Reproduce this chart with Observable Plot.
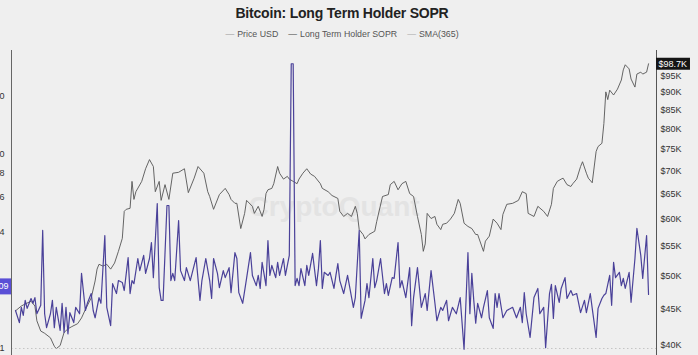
<!DOCTYPE html>
<html><head><meta charset="utf-8">
<script src="https://cdn.jsdelivr.net/npm/d3@7"></script>
<script src="https://cdn.jsdelivr.net/npm/@observablehq/plot@0.6"></script>
<style>
html,body{margin:0;padding:0;background:#efefef;width:698px;height:355px;overflow:hidden;font-family:"Liberation Sans",Arial,sans-serif;}
#title{position:absolute;left:0;top:4px;width:684px;text-align:center;font-weight:bold;font-size:14px;letter-spacing:-0.2px;line-height:18px;color:#222;}
#legend{position:absolute;left:0;top:28px;width:684px;text-align:center;font-size:8.8px;line-height:12px;color:#555;white-space:nowrap;}
#legend .item{margin:0 5px;}
#legend .dash{margin-right:3px;}
#chart{position:absolute;left:0;top:44px;width:698px;height:311px;}
#chart svg{position:absolute;left:0;top:0;overflow:visible;}
</style></head>
<body>
<div id="title">Bitcoin: Long Term Holder SOPR</div>
<div id="legend"><span class="item"><span class="dash" style="color:#999">—</span>Price USD</span><span class="item"><span class="dash" style="color:#444">—</span>Long Term Holder SOPR</span><span class="item"><span class="dash" style="color:#aaa">—</span>SMA(365)</span></div>
<div id="chart"></div>
<script>
// Days since 2024-01-01
const priceDays = [0,3,5,8,10,11,13,15,18,20,21,23,25,27,29,32,34,36,39,41,42,43,45,47,49,51,53,55,56,57,59,60,61,62,65,67,69,71,72,74,75,77,79,81,84,87,89,92,94,97,99,100,102,105,108,110,111,113,114,116,118,119,122,123,125,127,128,129,130,132,133,135,136,138,140,141,143,145,146,148,150,152,154,157,158,161,163,166,167,169,171,173,175,176,177,179,180,182,185,186,189,192,193,195,197,199,201,203,205,207,209,210,211,212,214,216,217,219,220,222,224,226,227,228,229,231,233,235,237,238,241,242,244,246,248,250,251,253,256,259,261,263,264,267,269,272,274,276,277,279,281,282,284,286,287,289,291,292,294,295,297,299,300,302,303,304,305,306,308,310,312,313,314,316,317,319,320,322,323,325,326];
// Price in thousands of USD
const priceK = [44.7,45.4,45.7,46.1,45.4,43.3,41.9,41.6,41.0,39.9,39.6,40.0,41.7,42.2,42.5,42.9,43.7,44.9,46.6,49.2,51.1,51.9,51.6,51.9,51.1,52.1,54.1,56.4,61.5,61.9,62.1,67.7,63.9,65.5,67.7,70.5,72.6,71.0,65.5,67.7,63.7,67.0,63.9,69.5,69.7,70.5,65.3,68.4,71.0,69.5,65.5,64.5,61.9,64.9,66.2,64.9,63.9,63.1,63.1,58.2,61.1,63.7,62.5,61.1,62.5,60.5,61.9,65.1,65.9,66.2,67.2,71.0,69.5,68.2,68.8,68.2,67.7,67.2,68.2,69.5,70.5,69.3,68.8,67.2,66.2,65.5,64.7,64.1,61.5,60.5,61.1,60.5,62.5,61.1,58.0,57.1,56.3,57.1,57.7,59.5,64.5,64.9,67.0,67.7,65.9,67.2,67.7,65.1,64.5,60.5,57.1,54.1,55.4,61.1,60.1,60.5,59.0,58.0,59.0,59.2,60.0,61.1,62.5,63.9,63.1,59.2,58.6,58.2,57.1,57.1,54.1,55.9,56.8,60.0,59.2,58.0,60.9,62.9,63.1,63.7,65.5,65.1,61.1,60.5,62.5,61.5,60.5,62.9,66.2,67.7,68.2,68.4,67.0,66.6,67.2,68.2,71.0,72.1,69.5,68.4,67.4,74.5,75.7,76.5,81.5,90.2,88.0,90.7,89.3,91.0,93.7,96.8,98.4,97.1,94.0,91.6,95.5,96.1,95.5,96.1,98.7];
const soprDays = [0,2,3,4,5,6,8,9,10,11,13,14,15,16,18,19,20,21,23,24,25,26,27,28,30,31,33,34,36,37,39,40,41,43,44,46,47,49,50,52,53,55,56,58,59,60,61,63,64,66,67,69,70,71,73,74,75,76,78,79,80,81,82,84,85,87,88,90,93,95,96,98,100,101,102,104,105,107,108,110,111,113,114,115,117,119,121,122,124,125,126,127,129,130,131,132,134,135,136,138,139,141,142,143,144,145,146,147,149,150,151,153,155,156,157,158,159,161,162,164,165,166,167,169,171,174,175,177,178,180,181,182,184,185,186,188,190,191,192,194,195,197,198,199,201,203,204,205,207,209,211,212,214,216,217,219,220,222,223,225,227,229,231,233,234,235,236,237,238,240,241,243,244,246,247,248,249,251,253,256,258,260,261,262,263,265,267,269,270,272,273,275,276,277,278,280,281,283,284,286,287,289,291,293,294,296,297,298,299,300,302,303,304,306,307,308,309,311,312,313,314,316,317,319,320,322,323,325,326];
const soprValues = [1.57,1.36,1.63,1.48,1.77,1.61,1.81,1.71,1.83,1.51,1.67,4.06,1.51,1.28,1.51,1.77,1.28,1.63,1.24,1.71,1.21,1.63,1.19,1.53,1.36,1.63,1.51,2.44,1.57,1.71,1.92,1.57,1.44,1.83,1.71,3.82,1.63,1.31,2.16,1.92,2.24,2.19,1.99,2.94,1.92,2.24,2.16,2.91,2.52,3.02,2.44,2.91,3.52,2.32,5.59,2.06,1.77,1.77,5.46,5.46,2.24,2.44,2.24,4.57,2.52,2.24,2.61,2.24,2.94,1.77,2.24,2.91,2.24,1.81,2.91,2.44,2.06,2.52,2.32,2.61,1.94,3.12,2.91,1.94,1.71,2.30,3.12,2.38,2.11,2.38,2.04,2.78,2.11,3.60,2.38,2.68,2.32,2.78,2.38,2.91,2.38,3.02,29.4,29.4,2.11,2.30,2.11,2.58,2.11,2.68,2.38,3.09,2.11,2.58,3.60,2.04,2.47,2.38,2.47,2.04,2.38,2.74,2.24,1.92,2.38,1.63,1.83,4.06,1.43,1.77,2.16,1.83,2.91,2.06,2.24,2.91,1.92,2.16,1.88,2.32,2.30,3.52,2.06,2.24,1.83,2.61,1.31,1.83,2.61,1.63,1.92,1.57,2.52,1.71,1.39,1.63,1.57,1.77,1.39,1.63,1.51,1.83,0.99,3.12,1.51,2.44,1.77,1.35,1.71,1.44,1.63,1.99,1.44,1.27,1.92,1.63,1.92,1.44,1.57,1.63,1.44,1.63,1.36,1.94,1.51,1.14,1.83,2.04,1.51,1.63,1.01,1.92,2.14,1.43,2.11,1.73,2.04,2.32,1.81,1.99,1.88,1.92,1.53,1.77,1.53,1.92,1.61,1.36,1.14,1.61,1.81,1.88,1.92,2.38,1.67,2.78,2.32,2.47,2.11,2.30,2.04,2.47,1.73,2.91,4.16,3.02,2.30,3.82,1.90];
const priceTicks = [40,45,50,55,60,65,70,75,80,85,90,95];
const soprTicks = [1,4,6,8,10,20];
const lastPriceLabel = 98.7;
const soprLabel = 2.09;

const xDomain = [-2.06, 330.1];
const priceDomain = [38.74, 103.0];
const soprDomain = [0.92, 34.4];

const priceData = priceDays.map((d,i)=>({d, v: priceK[i]}));
const soprData = soprDays.map((d,i)=>({d, v: soprValues[i]}));

const common = {
  width: 698, height: 311,
  marginLeft: 11, marginRight: 42, marginTop: 6, marginBottom: 0,
  style: {background: "transparent", fontFamily: "'Liberation Sans', Arial, sans-serif", fontSize: "9px", color: "#333", overflow: "visible"}
};

const pricePlot = Plot.plot({
  ...common,
  x: {type: "linear", domain: xDomain, axis: null},
  y: {type: "log", domain: priceDomain, axis: null},
  marks: [
    Plot.text(["CryptoQuant"], {frameAnchor: "middle", dy: 4, fontSize: 28, fontWeight: "bold", fill: "#e3e3e3"}),
    Plot.line(priceData, {x: "d", y: "v", stroke: "#555", strokeWidth: 0.9}),
    Plot.axisY({anchor: "right", ticks: priceTicks, tickSize: 0, tickPadding: 4, tickFormat: d => `$${d}K`, label: null, fill: "#333"}),
    Plot.ruleX([xDomain[1]], {stroke: "#555", strokeWidth: 1}),
    Plot.ruleY([lastPriceLabel], {x1: xDomain[1], x2: xDomain[1] + 17.5, stroke: "#151515", strokeWidth: 12}),
    Plot.text([lastPriceLabel], {x: xDomain[1], y: d => d, dx: 2, textAnchor: "start", text: d => `$${d}K`, fill: "white", fontSize: 9})
  ]
});

const soprPlot = Plot.plot({
  ...common,
  x: {type: "linear", domain: xDomain, axis: null},
  y: {type: "log", domain: soprDomain, axis: null},
  marks: [
    Plot.ruleY([1], {stroke: "#c4c4c4", strokeDasharray: "1.5,2.5"}),
    Plot.line(soprData, {x: "d", y: "v", stroke: "#4a4199", strokeWidth: 1.2}),
    Plot.axisY({anchor: "left", ticks: soprTicks, tickSize: 0, tickPadding: 7, tickFormat: d => `${d}`, label: null, fill: "#333"}),
    Plot.ruleX([xDomain[0]], {stroke: "#666", strokeWidth: 1}),
    Plot.ruleY([soprLabel], {x1: xDomain[0] - 6, x2: xDomain[0], stroke: "#5a4fd6", strokeWidth: 16}),
    Plot.text([soprLabel], {x: xDomain[0], y: d => d, dx: -3, textAnchor: "end", text: d => d.toFixed(2), fill: "white", fontSize: 9})
  ]
});

const chart = document.getElementById("chart");
chart.appendChild(pricePlot);
chart.appendChild(soprPlot);
</script>
</body></html>
